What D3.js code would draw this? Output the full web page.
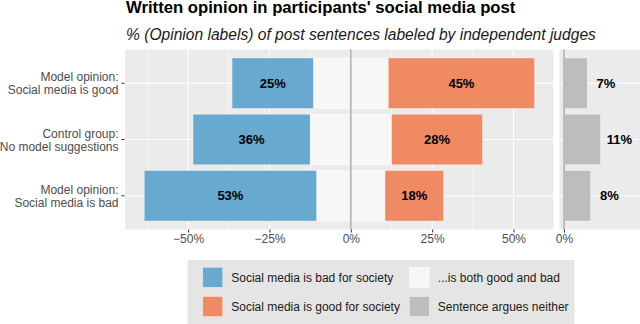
<!DOCTYPE html>
<html>
<head>
<meta charset="utf-8">
<script src="https://cdn.jsdelivr.net/npm/d3@7"></script>
<style>
  html, body { margin: 0; padding: 0; background: #fff; }
  svg { display: block; font-family: "Liberation Sans", Arial, sans-serif; }
</style>
</head>
<body>
<svg id="chart"></svg>
<script>
// rows, top to bottom
var groups = ["Model opinion:\nSocial media is good", "Control group:\nNo model suggestions", "Model opinion:\nSocial media is bad"];
var badPct = [25, 36, 53];
var goodPct = [45, 28, 18];
var neitherPct = [7, 11, 8];
var bothPct = [23, 25, 21];   // remainder

var mainTicks = [-50, -25, 0, 25, 50];
var mainMinor = [-62.5, -37.5, -12.5, 12.5, 37.5];
var sideTicks = [0];

var legendItems = [
  {name: "Social media is bad for society", color: "#67a9cf"},
  {name: "...is both good and bad", color: "#f7f7f7"},
  {name: "Social media is good for society", color: "#ef8a62"},
  {name: "Sentence argues neither", color: "#bdbdbd"}
];

var width = 640, height = 324;
var panelTop = 49.5, panelBottom = 229.5;

var svg = d3.select("#chart")
    .attr("width", width)
    .attr("height", height)
    .attr("viewBox", [0, 0, width, height]);

var x = d3.scaleLinear().domain([-69.4, 62.3]).range([125, 553.5]);
var xs = d3.scaleLinear().domain([0, 30]).range([564, 664]);
var y = d3.scaleBand().domain(groups).range([panelTop, panelBottom])
    .paddingInner(0.1).paddingOuter(0.15);
var cy = g => y(g) + y.bandwidth() / 2;
var fmt = v => d3.format("d")(v).replace("-", "\u2212") + "%";

// panels
svg.append("rect").attr("x", x.range()[0]).attr("y", panelTop)
    .attr("width", x.range()[1] - x.range()[0]).attr("height", panelBottom - panelTop)
    .attr("fill", "#ebebeb");
svg.append("rect").attr("x", 559.5).attr("y", panelTop)
    .attr("width", 120).attr("height", panelBottom - panelTop)
    .attr("fill", "#ebebeb");

// grid
var grid = svg.append("g").attr("stroke", "#fff");
grid.selectAll(".minor").data(mainMinor).join("line")
    .attr("x1", d => x(d)).attr("x2", d => x(d))
    .attr("y1", panelTop).attr("y2", panelBottom).attr("stroke-width", 0.55);
grid.selectAll(".major").data(mainTicks).join("line")
    .attr("x1", d => x(d)).attr("x2", d => x(d))
    .attr("y1", panelTop).attr("y2", panelBottom).attr("stroke-width", 1.1);
grid.selectAll(".hmain").data(groups).join("line")
    .attr("x1", x.range()[0]).attr("x2", x.range()[1])
    .attr("y1", d => cy(d)).attr("y2", d => cy(d)).attr("stroke-width", 1.1);
grid.selectAll(".hside").data(groups).join("line")
    .attr("x1", 559.5).attr("x2", width)
    .attr("y1", d => cy(d)).attr("y2", d => cy(d)).attr("stroke-width", 1.1);

// diverging stack: neutral centred on zero
var rows = groups.map((g, i) => ({
  g: g, bad: badPct[i], good: goodPct[i], both: bothPct[i], neither: neitherPct[i]
}));

var bars = svg.append("g").attr("stroke", "#fff").attr("stroke-width", 0.6).attr("stroke-opacity", 0.7);
bars.selectAll(".both").data(rows).join("rect")
    .attr("x", d => x(-d.both / 2)).attr("width", d => x(d.both / 2) - x(-d.both / 2))
    .attr("y", d => y(d.g)).attr("height", y.bandwidth())
    .attr("fill", "#f7f7f7");
bars.selectAll(".bad").data(rows).join("rect")
    .attr("x", d => x(-d.both / 2 - d.bad)).attr("width", d => x(-d.both / 2) - x(-d.both / 2 - d.bad))
    .attr("y", d => y(d.g)).attr("height", y.bandwidth())
    .attr("fill", "#67a9cf");
bars.selectAll(".good").data(rows).join("rect")
    .attr("x", d => x(d.both / 2)).attr("width", d => x(d.both / 2 + d.good) - x(d.both / 2))
    .attr("y", d => y(d.g)).attr("height", y.bandwidth())
    .attr("fill", "#ef8a62");
bars.selectAll(".neither").data(rows).join("rect")
    .attr("x", xs(0)).attr("width", d => xs(d.neither) - xs(0))
    .attr("y", d => y(d.g)).attr("height", y.bandwidth())
    .attr("fill", "#bdbdbd");

// zero lines
svg.append("line").attr("x1", x(0)).attr("x2", x(0)).attr("y1", panelTop).attr("y2", panelBottom)
    .attr("stroke", "#b8b8b8").attr("stroke-width", 1.8);
svg.append("line").attr("x1", xs(0)).attr("x2", xs(0)).attr("y1", panelTop).attr("y2", panelBottom)
    .attr("stroke", "#b8b8b8").attr("stroke-width", 1.8);

// bar labels
var lab = svg.append("g").attr("font-weight", "bold").attr("font-size", 13)
    .attr("fill", "#000").attr("text-anchor", "middle");
lab.selectAll(".lb").data(rows).join("text")
    .attr("x", d => x(-d.both / 2 - d.bad / 2)).attr("y", d => cy(d.g) + 4.7)
    .text(d => d.bad + "%");
lab.selectAll(".lg").data(rows).join("text")
    .attr("x", d => x(d.both / 2 + d.good / 2)).attr("y", d => cy(d.g) + 4.7)
    .text(d => d.good + "%");
lab.selectAll(".ln").data(rows).join("text")
    .attr("x", d => xs(d.neither + 5.6)).attr("y", d => cy(d.g) + 4.7)
    .text(d => d.neither + "%");

// x axes
var xAxis = d3.axisBottom(x).tickValues(mainTicks).tickFormat(fmt).tickSize(3).tickPadding(2);
var xsAxis = d3.axisBottom(xs).tickValues(sideTicks).tickFormat(fmt).tickSize(3).tickPadding(2);
[xAxis, xsAxis].forEach(ax => {
  svg.append("g").attr("transform", `translate(0,${panelBottom})`)
      .call(ax)
      .call(g => g.select(".domain").remove())
      .call(g => g.selectAll(".tick line").attr("stroke", "#333").attr("stroke-width", 1))
      .call(g => g.selectAll(".tick text").attr("fill", "#4d4d4d")
          .attr("font-size", 12).attr("font-family", null));
});

// y axis labels, two lines each
var yl = svg.append("g");
yl.selectAll("line").data(groups).join("line")
    .attr("x1", 121.5).attr("x2", 124.5).attr("y1", d => cy(d)).attr("y2", d => cy(d))
    .attr("stroke", "#333").attr("stroke-width", 1);
yl.selectAll("text").data(groups).join("text")
    .attr("text-anchor", "end").attr("font-size", 12).attr("fill", "#4d4d4d")
    .each(function(d) {
      var t = d3.select(this);
      d.split("\n").forEach((line, k) => {
        t.append("tspan").attr("x", 118.5).attr("y", cy(d) - 2 + k * 13).text(line);
      });
    });

// titles
svg.append("text").attr("x", 126).attr("y", 13.3)
    .attr("font-size", 16.7).attr("font-weight", "bold").attr("fill", "#000")
    .text("Written opinion in participants' social media post");
svg.append("text").attr("x", 126).attr("y", 39.5)
    .attr("font-size", 15.6).attr("font-style", "italic").attr("fill", "#1a1a1a")
    .text("% (Opinion labels) of post sentences labeled by independent judges");

// legend
var legend = svg.append("g");
legend.append("rect").attr("x", 187.5).attr("y", 260).attr("width", 387).attr("height", 64)
    .attr("fill", "#e5e5e5");
var item = legend.selectAll(".item").data(legendItems).join("g")
    .attr("transform", (d, i) => `translate(${i % 2 ? 409.3 : 202.7},${Math.floor(i / 2) ? 296.5 : 267.3})`);
item.append("rect").attr("width", 20).attr("height", 20)
    .attr("fill", d => d.color).attr("stroke", "#fff").attr("stroke-width", 0.5).attr("stroke-opacity", 0.7);
item.append("text").attr("x", 28.5).attr("y", 14.3)
    .attr("font-size", 12).attr("fill", "#1a1a1a")
    .text(d => d.name);
</script>
</body>
</html>
